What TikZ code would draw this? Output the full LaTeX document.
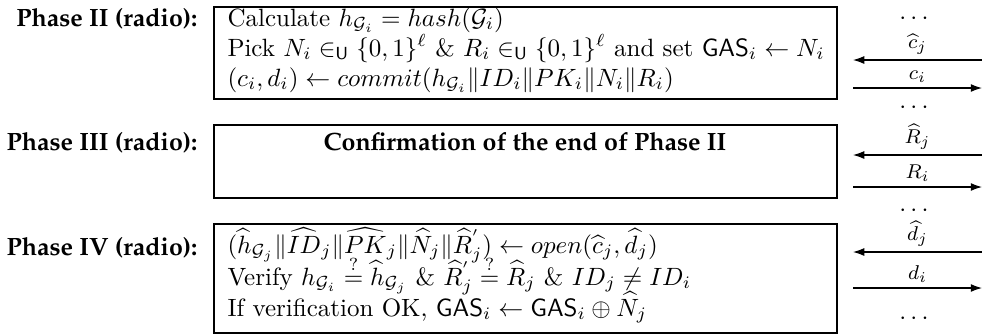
\documentclass[tikz,border=0pt]{standalone}
\usepackage{amsmath,amssymb}
\usepackage[T1,TU]{fontenc}
\usetikzlibrary{fit,arrows.meta}
\newcommand{\palb}{\usefont{T1}{ppl}{b}{n}\selectfont}
\begin{document}
\begin{tikzpicture}[x=0.4pt,y=-0.4pt,
  every node/.style={inner sep=0pt},
  phaselab/.style={anchor=base east,font=\palb},
  boxst/.style={draw,line width=0.6pt,inner sep=0pt,fit=#1},
  rowtxt/.style={anchor=base west},
  msg/.style={-{Latex[length=4.5pt,width=3.2pt]},line width=0.45pt},
  msglab/.style={above=2pt,font=\footnotesize},
  dotsst/.style={anchor=center}]
\useasboundingbox (0,0) rectangle (982,335);
% corners of boxes
\coordinate (b2a) at (214,7);   \coordinate (b2b) at (837,99);
\coordinate (b3a) at (214,125); \coordinate (b3b) at (837,198);
\coordinate (b4a) at (214,224); \coordinate (b4b) at (837,333);
\node[boxst={(b2a)(b2b)}] (box2) {};
\node[boxst={(b3a)(b3b)}] (box3) {};
\node[boxst={(b4a)(b4b)}] (box4) {};
% phase labels
\node[phaselab] (lab2) at (198,26) {Phase II (radio):};
\node[phaselab] (lab3) at (198,150) {Phase III (radio):};
\node[phaselab] (lab4) at (198,255) {Phase IV (radio):};
% Phase II rows
\node[rowtxt] (p2r1) at (227,26) {Calculate $h_{\mathcal{G}_i}=hash(\mathcal{G}_i)$};
\node[rowtxt] (p2r2) at (227,56) {Pick $N_i\in_{\mathsf{U}}\{0,1\}^{\ell}$ \& $R_i\in_{\mathsf{U}}\{0,1\}^{\ell}$ and set $\mathsf{GAS}_i\leftarrow N_i$};
\node[rowtxt] (p2r3) at (227,86) {$(c_i,d_i)\leftarrow commit(h_{\mathcal{G}_i}\|ID_i\|PK_i\|N_i\|R_i)$};
% Phase III
\node[font=\palb,anchor=base] (p3r1) at (525,150) {Confirmation of the end of Phase II};
% Phase IV rows
\node[rowtxt] (p4r1) at (227,253) {$(\widehat{h}_{\mathcal{G}_j}\|\widehat{ID}_j\|\widehat{PK}_j\|\widehat{N}_j\|\widehat{R}^{'}_j)\leftarrow open(\widehat{c}_j,\widehat{d}_j)$};
\node[rowtxt] (p4r2) at (227,285) {Verify $h_{\mathcal{G}_i}\stackrel{?}{=}\widehat{h}_{\mathcal{G}_j}$ \& $\widehat{R}^{'}_j\stackrel{?}{=}\widehat{R}_j$ \& $ID_j\neq ID_i$};
\node[rowtxt] (p4r3) at (227,316) {If verification OK, $\mathsf{GAS}_i\leftarrow\mathsf{GAS}_i\oplus\widehat{N}_j$};
% message end points
\coordinate (m1l) at (853,60);  \coordinate (m1r) at (982,60);
\coordinate (m2l) at (853,88);  \coordinate (m2r) at (982,88);
\coordinate (m3l) at (853,155); \coordinate (m3r) at (982,155);
\coordinate (m4l) at (853,187); \coordinate (m4r) at (982,187);
\coordinate (m5l) at (853,252); \coordinate (m5r) at (982,252);
\coordinate (m6l) at (853,288); \coordinate (m6r) at (982,288);
\draw[msg] (m1r) -- node[msglab] (t1) {$\widehat{c}_j$} (m1l);
\draw[msg] (m2l) -- node[msglab] (t2) {$c_i$} (m2r);
\draw[msg] (m3r) -- node[msglab] (t3) {$\widehat{R}_j$} (m3l);
\draw[msg] (m4l) -- node[msglab] (t4) {$R_i$} (m4r);
\draw[msg] (m5r) -- node[msglab] (t5) {$\widehat{d}_j$} (m5l);
\draw[msg] (m6l) -- node[msglab] (t6) {$d_i$} (m6r);
% dots
\node[dotsst] (d1) at (916,19) {$\cdots$};
\node[dotsst] (d2) at (916,108) {$\cdots$};
\node[dotsst] (d3) at (916,211) {$\cdots$};
\node[dotsst] (d4) at (916,319) {$\cdots$};
\end{tikzpicture}
\end{document}
